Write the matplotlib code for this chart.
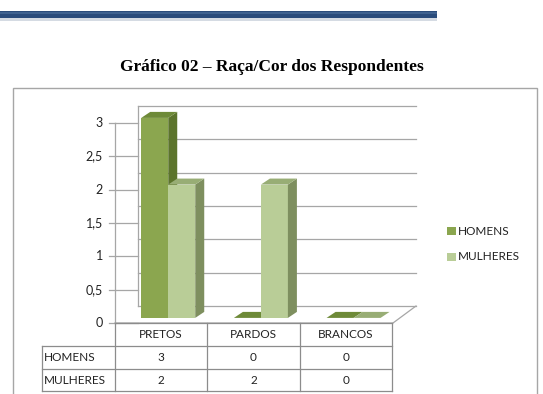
import numpy as np
import matplotlib.pyplot as plt
from matplotlib.patches import Polygon, Rectangle
from matplotlib.lines import Line2D

categories = ['PRETOS', 'PARDOS', 'BRANCOS']
series = ['HOMENS', 'MULHERES']
homens = [3, 0, 0]
mulheres = [2, 2, 0]
yticks = [0, 0.5, 1, 1.5, 2, 2.5, 3]

W, H = 543, 394
fig = plt.figure(figsize=(W / 100, H / 100), dpi=100)
fig.patch.set_facecolor('white')


def fx(px):
    return px / W


def fy(py):
    return 1 - py / H


# banner line on top
fig.add_artist(Rectangle((0, fy(21)), fx(437), 3 / H, transform=fig.transFigure,
                         facecolor='#d5dbe3', edgecolor='none'))
fig.add_artist(Rectangle((0, fy(18)), fx(437), 7 / H, transform=fig.transFigure,
                         facecolor='#2a4c7c', edgecolor='none'))
fig.add_artist(Rectangle((0, fy(14)), fx(437), 2 / H, transform=fig.transFigure,
                         facecolor='#3f6290', edgecolor='none'))

fig.text(fx(272), fy(67), 'Gráfico 02 – Raça/Cor dos Respondentes', ha='center', va='center',
         fontsize=12.5, fontweight='bold', family='Liberation Serif')

# chart frame
fig.add_artist(Rectangle((fx(13), fy(400)), fx(524), (400 - 88) / H, transform=fig.transFigure,
                         facecolor='none', edgecolor='#a6a6a6', lw=1))

# plot area: front plane
x0, x1, y0, y1 = 115, 393, 323, 123
ax = fig.add_axes([fx(x0), fy(y0), fx(x1 - x0), (y0 - y1) / H])
ax.set_xlim(0, 3)
ax.set_ylim(0, 3)
ax.axis('off')

ux = 3 / (x1 - x0)   # data units per pixel
uy = 3 / (y0 - y1)
DX, DY = 23 * ux, 17 * uy  # full depth

grid_c = '#a6a6a6'
for v in yticks:
    ax.add_line(Line2D([DX, 3 + DX], [v + DY, v + DY], color=grid_c, lw=0.9, clip_on=False, zorder=1))
    ax.add_line(Line2D([0, DX], [v, v], color=grid_c, lw=0.9, clip_on=False, zorder=1))
    ax.add_line(Line2D([-6 * ux, 0], [v, v], color=grid_c, lw=0.9, clip_on=False, zorder=1))
    ax.text(-12 * ux, v, ('%g' % v).replace('.', ','), ha='right', va='center',
            fontsize=9, family='Lato', color='#222222')
ax.add_line(Line2D([0, 0], [0, 3], color=grid_c, lw=0.9, clip_on=False, zorder=1))
ax.add_line(Line2D([DX, DX], [DY, 3 + DY], color=grid_c, lw=0.9, clip_on=False, zorder=1))
ax.add_line(Line2D([0, 3, 3 + DX], [0, 0, DY], color=grid_c, lw=0.9, clip_on=False, zorder=1))

# bars
colors = {
    'HOMENS': ('#8ba64f', '#6e8a38', '#5c742c'),
    'MULHERES': ('#b9cd97', '#98ad75', '#7e8f5f'),
}
bw = 27 * ux
f0 = 0.3
bx, by = DX * f0, DY * f0
ddx, ddy = 9 * ux, 6 * uy
for i, cat in enumerate(categories):
    for j, (name, vals) in enumerate(zip(series, [homens, mulheres])):
        v = vals[i]
        front, top, side = colors[name]
        left = i + 0.5 - bw + j * bw + bx
        right = left + bw
        b, t = by, v + by
        if v > 0:
            ax.add_patch(Polygon([(left, b), (right, b), (right, t), (left, t)], closed=True,
                                 facecolor=front, edgecolor='none', clip_on=False, zorder=3))
            ax.add_patch(Polygon([(right, b), (right + ddx, b + ddy), (right + ddx, t + ddy), (right, t)],
                                 closed=True, facecolor=side, edgecolor='none', clip_on=False, zorder=3))
        ax.add_patch(Polygon([(left, t), (right, t), (right + ddx, t + ddy), (left + ddx, t + ddy)],
                             closed=True, facecolor=top, edgecolor='none', clip_on=False, zorder=3))

# legend
for k, name in enumerate(series):
    ly = 231 + k * 26
    fig.add_artist(Rectangle((fx(447), fy(ly + 4)), fx(9), 8 / H, transform=fig.transFigure,
                             facecolor=colors[name][0], edgecolor='none'))
    fig.text(fx(458), fy(ly), name, ha='left', va='center', fontsize=8.5, family='Lato', color='#222222')

# data table
tc = '#8c8c8c'
col_x = [115, 207, 300, 392]
row_y = [323, 346, 369, 391]
lx = 42


def hline(xa, xb, y):
    fig.add_artist(Line2D([fx(xa), fx(xb)], [fy(y), fy(y)], transform=fig.transFigure, color=tc, lw=0.9))


def vline(x, ya, yb):
    fig.add_artist(Line2D([fx(x), fx(x)], [fy(ya), fy(yb)], transform=fig.transFigure, color=tc, lw=0.9))


hline(col_x[0], col_x[-1], row_y[0])
for y in row_y[1:]:
    hline(lx, col_x[-1], y)
for x in col_x:
    vline(x, row_y[0], row_y[-1])
vline(lx, row_y[1], row_y[-1])

for i, cat in enumerate(categories):
    cx = (col_x[i] + col_x[i + 1]) / 2
    fig.text(fx(cx), fy((row_y[0] + row_y[1]) / 2), cat, ha='center', va='center',
             fontsize=8.5, family='Lato', color='#222222')
    for r, vals in enumerate([homens, mulheres]):
        fig.text(fx(cx), fy((row_y[r + 1] + row_y[r + 2]) / 2), str(vals[i]), ha='center', va='center',
                 fontsize=8.5, family='Lato', color='#222222')
for r, name in enumerate(series):
    fig.text(fx(lx + 2), fy((row_y[r + 1] + row_y[r + 2]) / 2), name, ha='left', va='center',
             fontsize=8.5, family='Lato', color='#222222')

fig.savefig('out.png', dpi=100)
